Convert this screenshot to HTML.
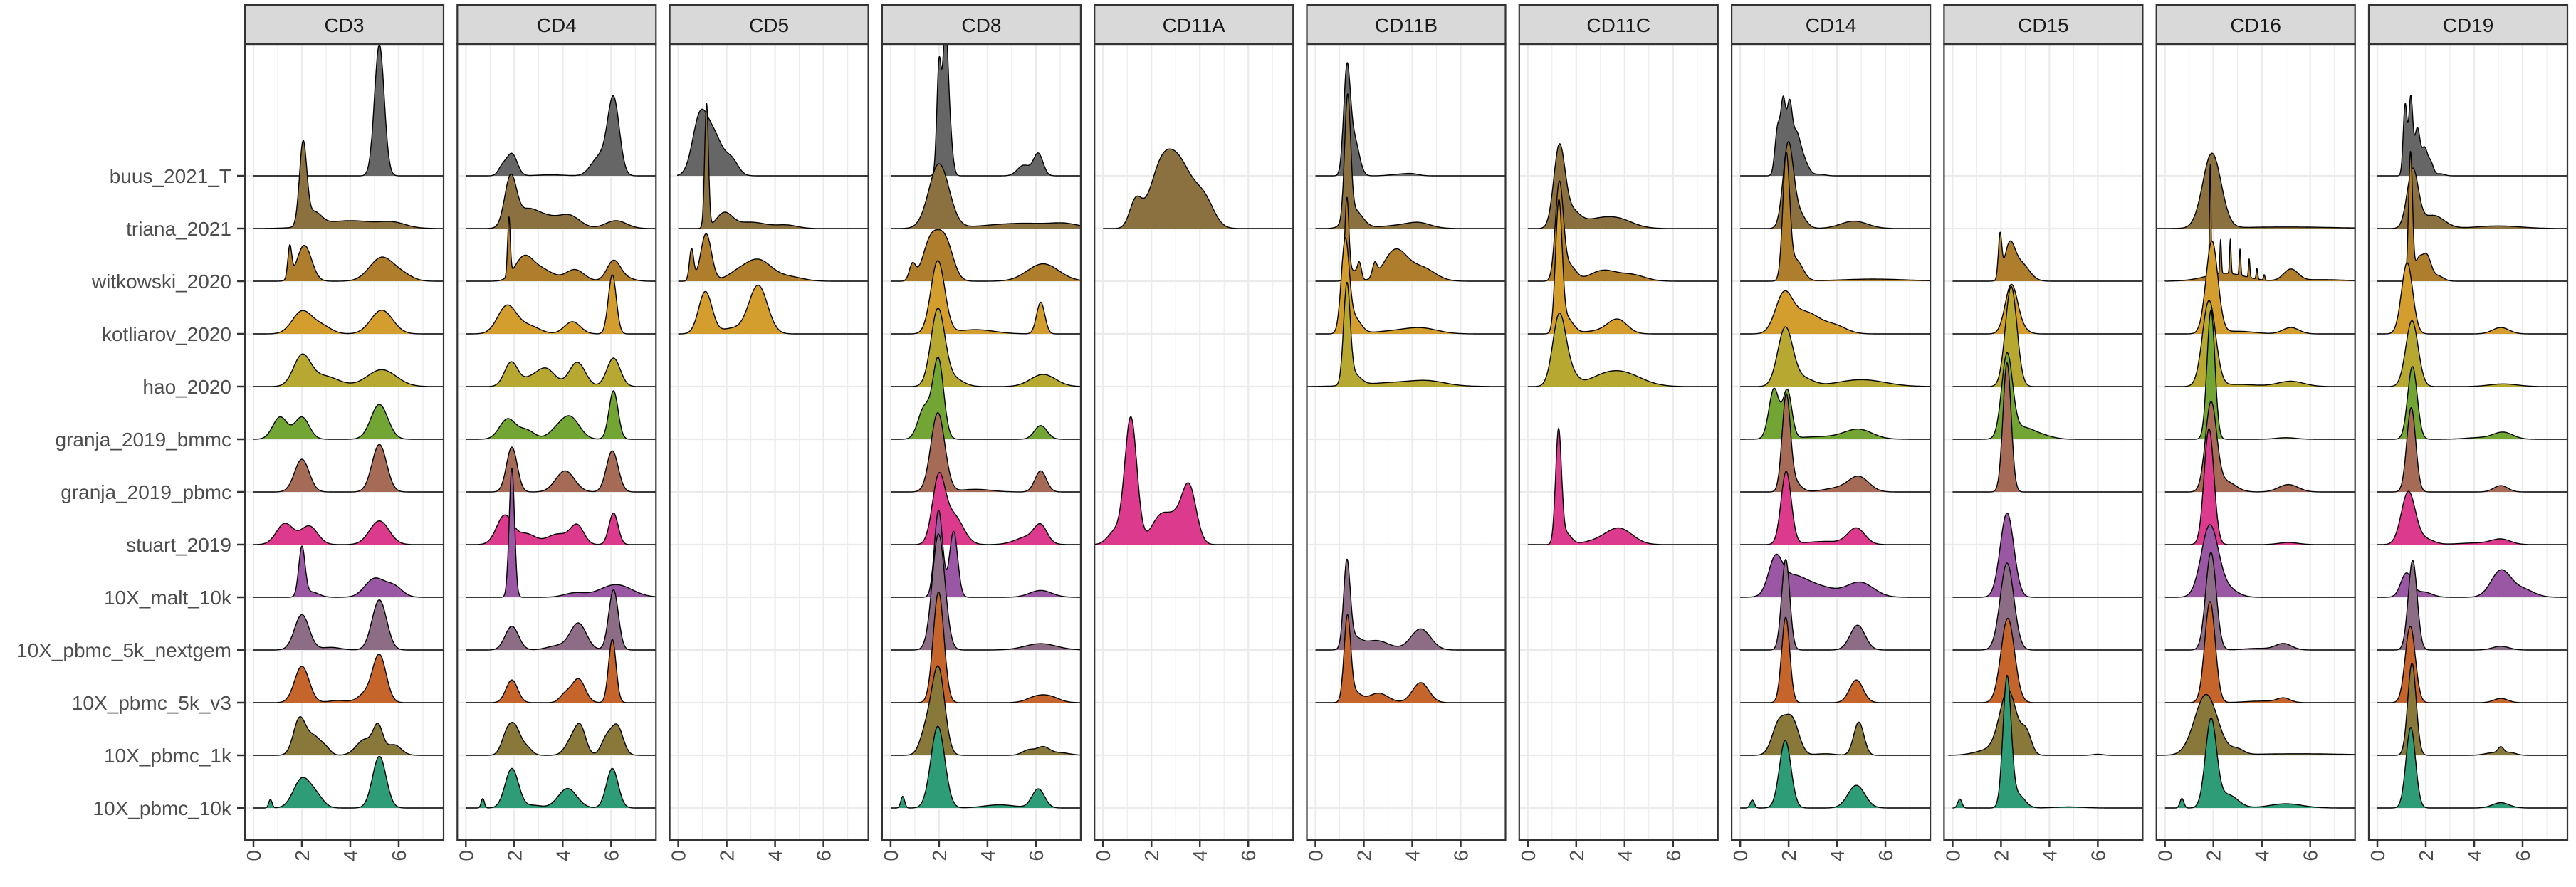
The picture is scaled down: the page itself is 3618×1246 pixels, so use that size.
<!DOCTYPE html>
<html><head><meta charset="utf-8">
<style>
html,body{margin:0;padding:0;background:#fff;}
svg{display:block;}
text{font-family:"Liberation Sans",Arial,sans-serif;}
</style></head>
<body>
<svg id="chart" width="3618" height="1246" viewBox="0 0 3618 1246" xmlns="http://www.w3.org/2000/svg"></svg>
<script>
// ---- data (peaks: [center, spread, height-in-rows]) ----
const datasets = ["buus_2021_T","triana_2021","witkowski_2020","kotliarov_2020","hao_2020","granja_2019_bmmc","granja_2019_pbmc","stuart_2019","10X_malt_10k","10X_pbmc_5k_nextgem","10X_pbmc_5k_v3","10X_pbmc_1k","10X_pbmc_10k"];
const colors = ["#666666","#8B7040","#AE7E2C","#D49E2E","#B7A832","#72A533","#A66B57","#DC3A8C","#9A57A3","#8C6D85","#C5642B","#88783A","#2E9D77"];
const markers = ["CD3","CD4","CD5","CD8","CD11A","CD11B","CD11C","CD14","CD15","CD16","CD19"];
const xTicks = [0,2,4,6];

const CD3 = [
 [[5.2,.2,2.49]],
 [[2.05,.15,1.55],[2.5,.3,.25],[4,1.2,.15],[5.8,.5,.08]],
 [[1.5,.08,.6],[2.1,.3,.68],[5.3,.5,.45],[6.2,.4,.1]],
 [[2,.4,.42],[2.8,.4,.15],[5.3,.45,.45]],
 [[2,.35,.55],[2.9,.6,.2],[5.3,.6,.32]],
 [[1.1,.3,.42],[2.0,.3,.42],[5.2,.35,.66]],
 [[2,.3,.62],[5.2,.3,.9]],
 [[1.3,.35,.4],[2.3,.35,.35],[5.2,.4,.45]],
 [[2.0,.13,.93],[2.4,.3,.1],[5.0,.4,.35],[5.8,.35,.2]],
 [[2.0,.3,.67],[3.2,.4,.05],[5.2,.3,.95]],
 [[2.0,.3,.69],[3.5,.4,.04],[4.6,.3,.15],[5.2,.28,.9]],
 [[1.9,.25,.68],[2.5,.3,.35],[3.0,.2,.1],[4.6,.35,.3],[5.15,.2,.5],[5.8,.3,.2]],
 [[0.7,.07,.16],[2.0,.35,.55],[2.6,.3,.2],[5.2,.28,.98]]
];
const CD4 = [
 [[1.9,.2,.42],[1.5,.15,.15],[5.5,.3,.35],[6.1,.22,1.45],[3.5,.5,.02]],
 [[1.85,.22,.95],[3.0,.6,.28],[4.3,.4,.22],[6.2,.4,.15],[2.5,.3,.15]],
 [[1.78,.05,1.1],[2.4,.35,.45],[3.2,.4,.2],[4.5,.35,.22],[6.1,.25,.38],[6.6,.3,.06]],
 [[1.7,.35,.53],[2.6,.4,.15],[4.4,.3,.23],[6.05,.15,1.12]],
 [[1.87,.25,.46],[3.3,.35,.34],[4.6,.3,.46],[6.1,.25,.54],[2.6,.3,.12]],
 [[1.72,.3,.38],[2.5,.3,.17],[4.3,.35,.42],[3.7,.3,.12],[6.1,.17,.92]],
 [[1.9,.2,.85],[4.1,.35,.4],[6.05,.22,.78]],
 [[1.6,.3,.55],[2.5,.35,.2],[3.8,.4,.2],[4.6,.25,.35],[6.1,.17,.6]],
 [[1.9,.1,2.45],[4.5,.4,.08],[6.2,.6,.24]],
 [[1.9,.25,.45],[4.65,.3,.5],[3.8,.4,.08],[6.1,.18,1.14]],
 [[1.9,.22,.43],[4.1,.2,.15],[4.65,.25,.45],[6.05,.14,1.2]],
 [[1.7,.2,.4],[2.05,.2,.45],[2.5,.2,.15],[4.4,.25,.3],[4.75,.2,.45],[5.8,.2,.3],[6.25,.22,.55]],
 [[0.7,.06,.18],[1.9,.25,.75],[4.2,.35,.37],[6.05,.22,.75],[2.8,.3,.05]]
];
const CD5 = [
 [[0.9,.28,1.1],[1.5,.3,.7],[2.2,.25,.3]],
 [[1.17,.07,2.35],[1.9,.3,.28],[3.0,.6,.12],[4.5,.4,.06]],
 [[0.55,.08,.6],[1.15,.2,.9],[3.3,.5,.4],[2.4,.4,.12],[4.6,.5,.08]],
 [[1.12,.25,.8],[3.3,.35,.92],[2.2,.4,.1]],
 null,null,null,null,null,null,null,null,null
];
const CD8 = [
 [[2.0,.07,2.1],[2.25,.08,2.3],[2.4,.1,1.0],[5.5,.2,.2],[6.1,.15,.42]],
 [[2.0,.32,1.22],[5.5,1.2,.1],[7.2,.4,.05]],
 [[1.65,.25,.75],[2.25,.25,.75],[0.9,.1,.3],[6.3,.5,.33]],
 [[1.95,.22,1.38],[3.5,.6,.08],[6.2,.13,.6]],
 [[1.95,.22,1.45],[2.6,.3,.15],[6.3,.4,.23]],
 [[1.97,.17,1.5],[1.4,.2,.6],[6.2,.2,.26]],
 [[1.95,.22,1.5],[6.2,.18,.4],[3.5,.5,.05]],
 [[1.98,.2,1.2],[2.6,.3,.55],[5.7,.4,.15],[6.2,.2,.3]],
 [[1.98,.13,1.65],[2.6,.13,1.25],[6.2,.35,.13]],
 [[1.98,.2,2.2],[6.2,.5,.12]],
 [[1.98,.17,2.1],[6.0,.3,.1],[6.6,.3,.1]],
 [[1.98,.2,1.6],[1.5,.2,.5],[5.7,.2,.1],[6.3,.2,.15],[7.0,.3,.05]],
 [[0.5,.06,.22],[1.95,.22,1.55],[4.5,.5,.06],[6.1,.2,.36]]
];
const CD11A = [
 null,
 [[1.35,.25,.5],[2.3,.45,.75],[3.1,.6,1.25],[4.2,.4,.45]],
 null,null,null,null,null,
 [[1.15,.25,2.4],[2.4,.4,.55],[3.55,.3,1.1],[0.5,.3,.25],[3.0,.3,.3]],
 null,null,null,null,null
];
const CD11B = [
 [[1.3,.1,1.9],[1.6,.15,.7],[3.5,.3,.03],[4.0,.2,.03]],
 [[1.33,.09,2.3],[1.6,.25,.35],[3.5,.6,.06],[4.3,.35,.08]],
 [[1.3,.06,1.5],[1.82,.06,.28],[2.45,.07,.25],[3.3,.35,.58],[4.4,.4,.25],[1.55,.15,.2]],
 [[1.23,.12,1.7],[1.6,.2,.3],[4.4,.5,.1],[3.2,.6,.05]],
 [[1.3,.1,1.85],[1.6,.2,.2],[3.5,1.0,.08],[4.7,.5,.06]],
 null,null,null,null,
 [[1.3,.1,1.6],[1.6,.2,.2],[2.5,.4,.18],[4.35,.3,.4]],
 [[1.32,.1,1.55],[1.6,.2,.2],[2.6,.3,.18],[4.35,.25,.38]],
 null,null
];
const CD11C = [
 null,
 [[1.3,.17,1.5],[1.8,.25,.3],[3.6,.5,.2],[2.6,.4,.1]],
 [[1.3,.12,1.8],[1.7,.2,.3],[3.1,.4,.2],[4.3,.4,.12]],
 [[1.28,.1,2.4],[1.6,.2,.3],[3.7,.3,.27],[2.8,.4,.05]],
 [[1.3,.2,1.35],[1.8,.2,.2],[3.9,.6,.25],[3.0,.5,.1]],
 null,null,
 [[1.27,.09,2.15],[1.6,.15,.2],[3.0,.5,.07],[3.8,.4,.28]],
 null,null,null,null,null
];
const CD14 = [
 [[1.55,.08,.9],[1.78,.07,1.3],[2.03,.08,1.2],[2.3,.12,.7],[2.6,.15,.3],[3.3,.15,.03]],
 [[1.98,.15,1.55],[2.4,.2,.3],[4.7,.4,.14]],
 [[1.9,.1,2.3],[2.3,.2,.4],[5.5,1.0,.04]],
 [[1.8,.25,.7],[2.7,.4,.4],[3.9,.35,.15]],
 [[1.86,.22,1.1],[2.6,.3,.15],[5.0,.7,.13]],
 [[1.4,.15,.95],[1.95,.13,.9],[4.9,.4,.17],[3.5,.8,.05]],
 [[1.9,.12,1.75],[2.2,.2,.2],[4.9,.3,.28],[4.0,.4,.07]],
 [[1.9,.15,1.38],[4.8,.25,.3],[3.5,.6,.06]],
 [[1.45,.2,.62],[2.1,.4,.35],[3.2,.5,.2],[4.95,.4,.28]],
 [[1.88,.12,1.72],[4.85,.22,.47]],
 [[1.88,.12,1.62],[4.8,.2,.43]],
 [[1.6,.2,.6],[2.15,.2,.65],[4.9,.15,.63],[3.5,.3,.03]],
 [[0.5,.06,.15],[1.86,.17,1.28],[4.8,.25,.43]]
];
const CD15 = [
 null,null,
 [[1.96,.05,.8],[2.35,.15,.6],[2.8,.25,.35]],
 [[2.42,.18,.9],[2.8,.2,.1]],
 [[2.42,.17,1.9]],
 [[2.25,.16,1.55],[2.9,.35,.22],[3.8,.3,.05]],
 [[2.25,.12,2.45]],
 null,
 [[2.25,.2,1.6]],
 [[2.25,.2,1.65]],
 [[2.28,.2,1.6]],
 [[2.3,.25,1.2],[3.05,.15,.4],[1.5,.4,.1],[6.0,.15,.02]],
 [[0.3,.06,.17],[2.25,.12,2.45],[2.7,.2,.25],[4.8,.4,.02]]
];
const CD16 = [
 null,
 [[1.94,.28,1.42],[5,1.5,.03]],
 [[1.87,.03,2.1],[2.3,.03,.65],[2.7,.03,.65],[3.1,.03,.5],[3.48,.03,.35],[3.8,.03,.2],[4.1,.03,.1],[2.5,.6,.15],[5.2,.22,.22],[6.5,.7,.03]],
 [[1.94,.18,1.75],[5.2,.25,.12],[3,.5,.05]],
 [[1.82,.2,1.62],[5.2,.4,.1],[3,.6,.04]],
 [[1.9,.12,2.45],[5.0,.3,.03]],
 [[1.9,.17,1.65],[2.5,.3,.2],[5.1,.3,.14]],
 [[1.82,.15,2.2],[5.1,.3,.04]],
 [[1.85,.26,1.35],[2.6,.3,.15]],
 [[1.9,.16,1.85],[4.9,.25,.12],[3.8,.4,.03]],
 [[1.86,.16,1.92],[4.9,.2,.08],[4,.5,.03]],
 [[1.7,.35,1.15],[3.0,.2,.1],[5.5,1.5,.03]],
 [[0.7,.06,.18],[1.9,.17,1.65],[2.6,.3,.25],[5.0,.5,.08]]
];
const CD19 = [
 [[1.15,.07,1.35],[1.38,.07,1.45],[1.65,.1,.9],[1.95,.1,.5],[2.2,.1,.25],[2.6,.15,.04]],
 [[1.46,.2,1.1],[2.3,.4,.25],[5.0,.8,.05]],
 [[1.37,.07,2.4],[1.7,.15,.4],[2.05,.15,.45],[2.5,.2,.1]],
 [[1.23,.2,1.35],[5.1,.3,.12]],
 [[1.43,.22,1.25],[5.2,.5,.05]],
 [[1.45,.17,1.38],[5.2,.35,.13],[4.2,.5,.03]],
 [[1.4,.16,1.6],[5.1,.25,.12]],
 [[1.28,.25,1.0],[2.0,.3,.1],[5.1,.35,.1],[4,.6,.03]],
 [[1.2,.2,.45],[1.9,.3,.1],[5.1,.35,.5],[6.0,.4,.15]],
 [[1.46,.16,1.7],[5.1,.3,.07]],
 [[1.36,.18,1.45],[5.1,.25,.08]],
 [[1.43,.15,1.75],[5.1,.1,.12],[4.8,.3,.05],[5.5,.2,.05]],
 [[1.38,.17,1.53],[5.1,.3,.1]]
];
const series = [CD3,CD4,CD5,CD8,CD11A,CD11B,CD11C,CD14,CD15,CD16,CD19];
// per-panel bandwidth widening (smoothing)
const widen = [1.0,1.1,1.1,1.3,1.0,1.35,1.35,1.4,1.4,1.35,1.15];

// ---- layout ----
const NS = "http://www.w3.org/2000/svg";
const svg = document.getElementById("chart");
const P0 = 344, PITCH = 298.3, PW = 279, STRIP_T = 7, PT = 62, PB = 1180;
const ROW0 = 247, ROWH = 74, XMIN = -0.35, XMAX = 7.85, UNIT = 34;
function mk(tag, attrs, parent) {
  const e = document.createElementNS(NS, tag);
  for (const k in attrs) e.setAttribute(k, attrs[k]);
  (parent || svg).appendChild(e);
  return e;
}
function xScale(i, v) { return P0 + i * PITCH + 12 + v * UNIT; }
function yBase(r) { return ROW0 + r * ROWH; }
function dens(comps, x, w) { let s = 0; for (const c of comps) { const sd = c[1] < 0.04 ? c[1] : c[1] * w; const z = (x - c[0]) / sd; s += c[2] * Math.exp(-0.5 * z * z); } return s; }

const defs = mk("defs", {});
datasets.forEach((d, r) => {
  const t = mk("text", {x: 325, y: yBase(r) + 10, "text-anchor": "end", "font-size": 28, fill: "#4d4d4d"});
  
  
  t.textContent = d;
  const tk = mk("line", {x1: 333, x2: 344, y1: yBase(r), y2: yBase(r), stroke: "#333", "stroke-width": 2.5});
  
  
});

markers.forEach((m, i) => {
  const L = P0 + i * PITCH;
  const g = mk("g", {});
  
  
  const cp = mk("clipPath", {id: "clip" + i}, defs);
  mk("rect", {x: L, y: PT, width: PW, height: PB - PT}, cp);
  const bg = mk("rect", {x: L, y: PT, width: PW, height: PB - PT, fill: "#fff"}, g);
  
  
  for (let v = 0; v <= 7; v++) {
    const gl = mk("line", {x1: xScale(i, v), x2: xScale(i, v), y1: PT, y2: PB, stroke: "#ebebeb", "stroke-width": v % 2 === 0 ? 2.2 : 1.1}, g);
    
    
  }
  datasets.forEach((d, r) => {
    const hl = mk("line", {x1: L, x2: L + PW, y1: yBase(r), y2: yBase(r), stroke: "#ebebeb", "stroke-width": 2.2}, g);
    
    
  });
  const rg = mk("g", {"clip-path": "url(#clip" + i + ")"}, g);
  series[i].forEach((comps, r) => {
    if (!comps) return;
    let x0 = 0;
    comps.forEach(c => { x0 = Math.min(x0, c[0] - 3 * c[1] * widen[i]); });
    x0 = Math.max(x0, XMIN);
    const pts = [];
    for (let x = x0; x <= XMAX + 0.05; x += 0.012) {
      pts.push([xScale(i, x), yBase(r) - dens(comps, x, widen[i]) * ROWH]);
    }
    let dd = "M" + pts[0][0].toFixed(1) + "," + yBase(r);
    pts.forEach(p => { dd += "L" + p[0].toFixed(1) + "," + p[1].toFixed(1); });
    const area = mk("path", {d: dd + "L" + pts[pts.length-1][0].toFixed(1) + "," + yBase(r) + "Z", fill: colors[r], stroke: "none"}, rg);
    
    
    const line = mk("path", {d: dd, fill: "none", stroke: "#000", "stroke-width": 1.4, "stroke-linejoin": "round"}, rg);
    
    
  });
  const bd = mk("rect", {x: L, y: PT, width: PW, height: PB - PT, fill: "none", stroke: "#333", "stroke-width": 2.2}, g);
  
  
  const st = mk("rect", {x: L, y: STRIP_T, width: PW, height: PT - STRIP_T, fill: "#d9d9d9", stroke: "#333", "stroke-width": 2.2}, g);
  
  
  const sl = mk("text", {x: L + PW / 2, y: 45, "text-anchor": "middle", "font-size": 28, fill: "#1a1a1a"}, g);
  
  
  sl.textContent = m;
  xTicks.forEach(v => {
    const X = xScale(i, v);
    const tk = mk("line", {x1: X, x2: X, y1: PB, y2: PB + 10, stroke: "#333", "stroke-width": 2.5}, g);
    
    
    const tl = mk("text", {x: 0, y: 0, "text-anchor": "end", "font-size": 28, fill: "#4d4d4d", transform: "translate(" + (X + 10) + "," + (PB + 14) + ") rotate(-90)"}, g);
    
    
    tl.textContent = v;
  });
});
</script>
</body></html>
